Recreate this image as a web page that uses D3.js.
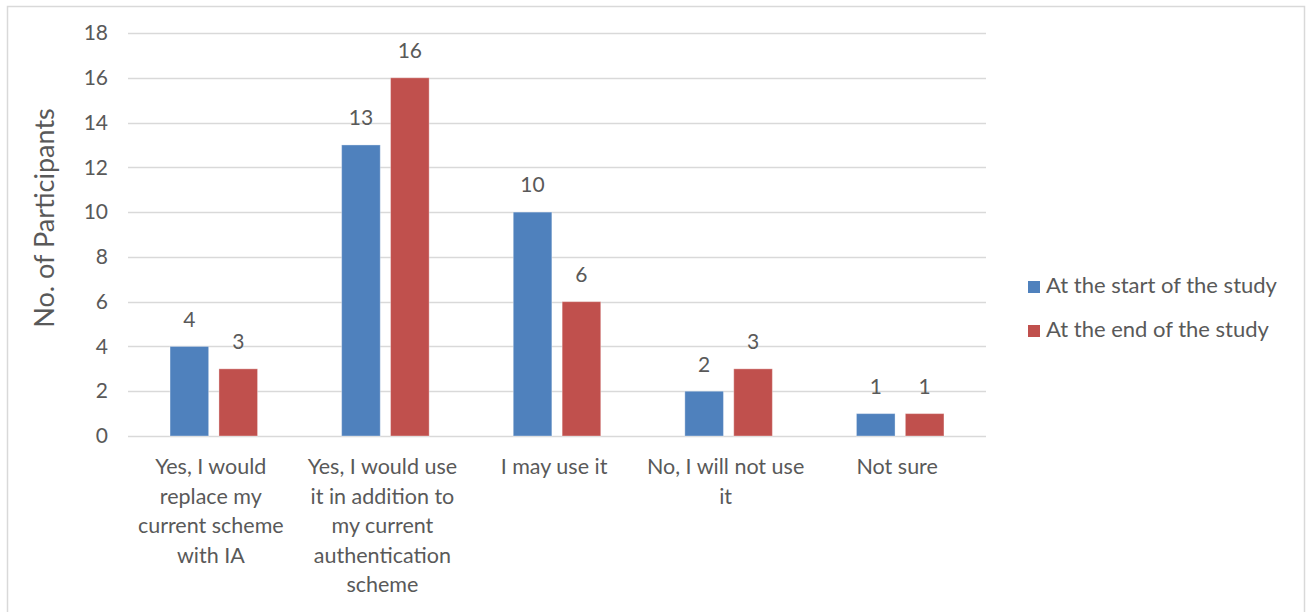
<!DOCTYPE html>
<html>
<head>
<meta charset="utf-8">
<script src="https://cdn.jsdelivr.net/npm/d3@7/dist/d3.min.js"></script>
<style>
  html, body { margin: 0; padding: 0; background: #fff; }
  svg { display: block; }
  text { font-family: Lato, "Open Sans", sans-serif; fill: #595959; }
</style>
</head>
<body>
<svg id="chart" width="1311" height="612"></svg>
<script>
// Answers to "Would you use IA?" asked at the start and at the end of the study
const categories = [
  ["Yes, I would", "replace my", "current scheme", "with IA"],
  ["Yes, I would use", "it in addition to", "my current", "authentication", "scheme"],
  ["I may use it"],
  ["No, I will not use", "it"],
  ["Not sure"]
];
const seriesNames = ["At the start of the study", "At the end of the study"];
const startValues = [4, 13, 10, 2, 1];
const endValues = [3, 16, 6, 3, 1];
const yTicks = [0, 2, 4, 6, 8, 10, 12, 14, 16, 18];
const colors = ["#4F81BD", "#C0504D"];

const svg = d3.select("#chart");

// outer chart frame
svg.append("rect")
  .attr("x", 7.5).attr("y", 6.5)
  .attr("width", 1297).attr("height", 620)
  .attr("fill", "#fff").attr("stroke", "#d9d9d9").attr("stroke-width", 1.5);

const plot = { left: 128, right: 986, top: 33, bottom: 436 };

const x = d3.scaleBand()
  .domain(d3.range(categories.length))
  .range([plot.left, plot.right])
  .padding(0);

const y = d3.scaleLinear()
  .domain([0, 18])
  .range([plot.bottom, plot.top]);

// gridlines
svg.append("g")
  .selectAll("line")
  .data(yTicks)
  .join("line")
  .attr("x1", plot.left).attr("x2", plot.right)
  .attr("y1", d => Math.round(y(d)) + 0.5).attr("y2", d => Math.round(y(d)) + 0.5)
  .attr("stroke", "#d9d9d9").attr("stroke-width", 1.5);

// y tick labels
const yAxis = d3.axisLeft(y).tickValues(yTicks).tickSize(0).tickPadding(0);
const gy = svg.append("g")
  .attr("transform", `translate(${plot.left - 20},0)`)
  .call(yAxis);
gy.select(".domain").remove();
gy.selectAll("text")
  .style("font-family", "Lato, 'Open Sans', sans-serif")
  .style("font-size", "21px")
  .attr("fill", "#595959");

// y axis title
svg.append("text")
  .attr("transform", `translate(54,218) rotate(-90)`)
  .attr("text-anchor", "middle")
  .style("font-size", "27px")
  .text("No. of Participants");

// bars
const series = [startValues, endValues];
const barW = x.bandwidth() * 0.225;
const gap = x.bandwidth() * 0.06;
const groupW = barW * 2 + gap;

series.forEach((vals, si) => {
  const g = svg.append("g");
  const bx = i => x(i) + (x.bandwidth() - groupW) / 2 + si * (barW + gap);
  g.selectAll("rect")
    .data(vals)
    .join("rect")
    .attr("x", (d, i) => bx(i))
    .attr("y", d => y(d))
    .attr("width", barW)
    .attr("height", d => y(0) - y(d))
    .attr("fill", colors[si])
    .attr("stroke", "#ffffff").attr("stroke-opacity", 0.35).attr("stroke-width", 1);
  g.selectAll("text")
    .data(vals)
    .join("text")
    .attr("x", (d, i) => bx(i) + barW / 2)
    .attr("y", d => y(d) - 25)
    .attr("text-anchor", "middle")
    .attr("dominant-baseline", "middle")
    .style("font-size", "21px")
    .text(d => d);
});

// category labels
const catG = svg.append("g");
categories.forEach((lines, i) => {
  const t = catG.append("text")
    .attr("text-anchor", "middle")
    .style("font-size", "21.5px");
  lines.forEach((ln, k) => {
    t.append("tspan")
      .attr("x", x(i) + x.bandwidth() / 2 - 3)
      .attr("y", 474 + k * 29.6)
      .text(ln);
  });
});

// legend
const legend = svg.append("g");
seriesNames.forEach((name, i) => {
  const ly = 287 + i * 44;
  legend.append("rect")
    .attr("x", 1028).attr("y", ly - 6)
    .attr("width", 12).attr("height", 12)
    .attr("fill", colors[i]);
  legend.append("text")
    .attr("x", 1046).attr("y", ly)
    .attr("dominant-baseline", "middle")
    .style("font-size", "22px")
    .text(name);
});
</script>
</body>
</html>
